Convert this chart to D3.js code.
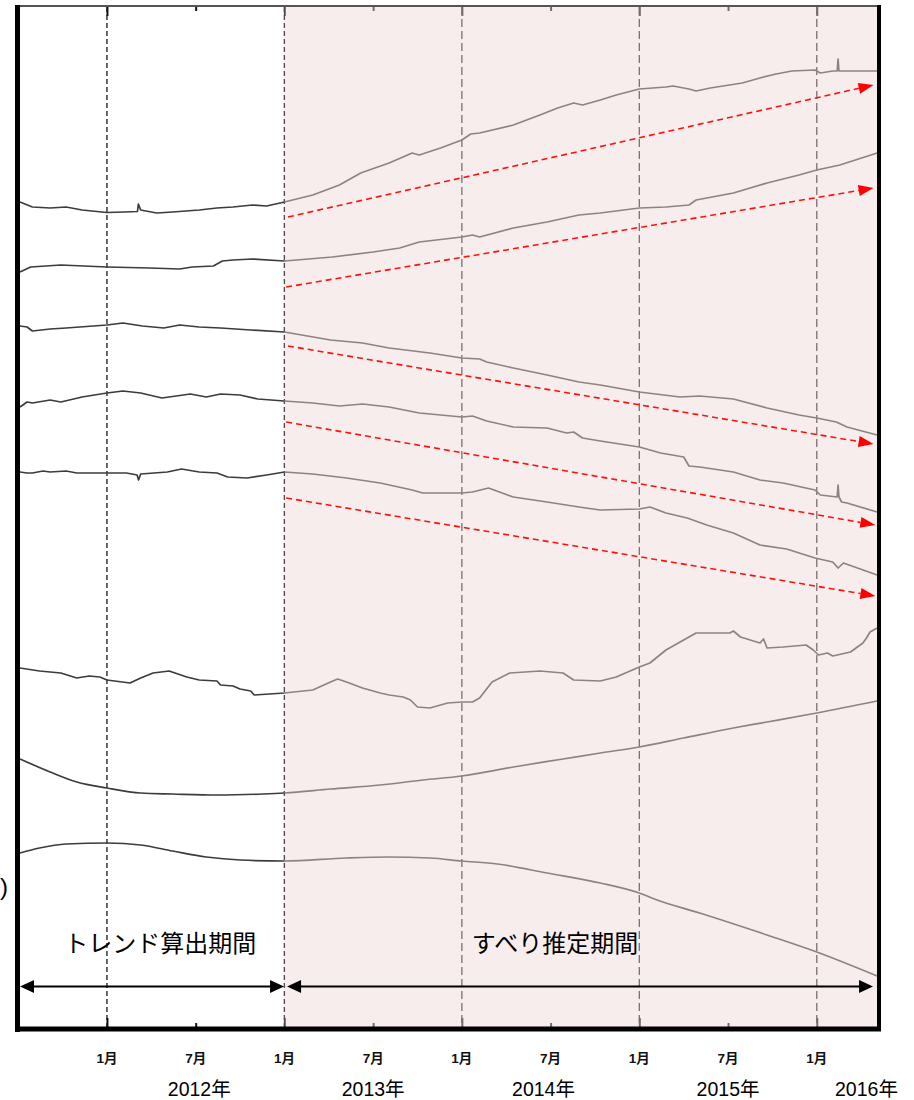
<!DOCTYPE html>
<html>
<head>
<meta charset="utf-8">
<script src="https://cdn.jsdelivr.net/npm/d3@7"></script>
<style>
  body { margin: 0; background: #fff; }
</style>
</head>
<body>
<svg id="chart" width="914" height="1100"></svg>
<script>
// Displacement time series (decimal year, relative displacement), stacked top to bottom
const series1 = [[2011.51,82.5],[2011.58,82.0],[2011.68,81.9],[2011.77,82.0],[2011.86,81.7],[2012.00,81.45],[2012.10,81.5],[2012.172,81.55],[2012.177,82.3],[2012.19,81.7],[2012.28,81.4],[2012.37,81.5],[2012.52,81.7],[2012.62,81.9],[2012.71,82.0],[2012.82,82.2],[2012.90,82.1],[2013.00,82.5],[2013.16,83.2],[2013.31,84.2],[2013.43,85.4],[2013.59,86.4],[2013.72,87.4],[2013.76,87.2],[2013.88,87.9],[2014.00,88.7],[2014.05,89.3],[2014.10,89.4],[2014.29,90.2],[2014.44,91.2],[2014.54,91.9],[2014.63,92.4],[2014.68,92.2],[2014.78,92.7],[2014.87,93.2],[2015.00,93.8],[2015.15,94.0],[2015.19,94.1],[2015.28,93.8],[2015.32,93.6],[2015.40,93.9],[2015.58,94.4],[2015.68,94.9],[2015.77,95.3],[2015.86,95.6],[2015.99,95.7],[2016.02,95.4],[2016.09,95.6],[2016.115,95.6],[2016.12,96.8],[2016.125,95.6],[2016.20,95.6],[2016.34,95.6]];
const series2 = [[2011.51,75.5],[2011.57,76.0],[2011.74,76.2],[2012.00,76.0],[2012.24,75.9],[2012.41,75.8],[2012.48,76.0],[2012.60,76.1],[2012.65,76.6],[2012.71,76.7],[2012.82,76.8],[2013.00,76.6],[2013.27,77.0],[2013.50,77.5],[2013.65,77.9],[2013.76,78.5],[2014.00,79.0],[2014.06,79.2],[2014.10,79.0],[2014.29,79.9],[2014.48,80.5],[2014.66,81.2],[2014.78,81.4],[2015.00,81.9],[2015.15,82.0],[2015.28,82.2],[2015.32,82.7],[2015.53,83.4],[2015.72,84.4],[2015.90,85.2],[2016.00,85.7],[2016.13,86.2],[2016.34,87.4]];
const series3 = [[2011.51,70.1],[2011.55,70.0],[2011.58,69.6],[2011.68,69.8],[2011.77,69.9],[2012.00,70.2],[2012.09,70.4],[2012.20,70.1],[2012.32,69.9],[2012.41,70.2],[2012.52,70.0],[2012.64,69.9],[2012.81,69.7],[2013.00,69.5],[2013.26,68.7],[2013.44,68.4],[2013.59,67.9],[2013.82,67.4],[2014.00,66.9],[2014.10,66.8],[2014.14,66.5],[2014.29,65.9],[2014.48,65.2],[2014.66,64.5],[2014.78,64.2],[2015.00,63.5],[2015.23,63.0],[2015.34,63.1],[2015.53,62.8],[2015.72,61.9],[2015.90,61.2],[2016.00,60.9],[2016.11,60.5],[2016.17,60.0],[2016.34,59.2]];
const series4 = [[2011.51,62.0],[2011.55,62.5],[2011.58,62.4],[2011.68,62.7],[2011.74,62.5],[2011.86,63.0],[2012.00,63.4],[2012.09,63.6],[2012.19,63.4],[2012.31,62.9],[2012.39,63.1],[2012.47,63.3],[2012.56,63.0],[2012.64,63.3],[2012.75,63.2],[2012.85,62.8],[2013.00,62.6],[2013.16,62.4],[2013.31,62.1],[2013.44,62.3],[2013.59,62.0],[2013.76,61.4],[2014.00,61.0],[2014.06,61.1],[2014.14,60.6],[2014.29,60.0],[2014.48,59.9],[2014.59,59.4],[2014.63,59.5],[2014.68,58.9],[2014.78,58.6],[2015.00,58.0],[2015.12,57.4],[2015.25,57.0],[2015.28,56.1],[2015.34,56.0],[2015.53,55.5],[2015.68,54.7],[2015.81,54.4],[2015.99,53.7],[2016.02,53.2],[2016.115,53.0],[2016.12,54.2],[2016.125,53.0],[2016.14,52.5],[2016.17,52.4],[2016.34,51.5]];
const series5 = [[2011.51,55.5],[2011.55,55.4],[2011.58,55.4],[2011.64,55.6],[2011.68,55.5],[2011.77,55.6],[2011.83,55.4],[2012.00,55.4],[2012.11,55.4],[2012.17,55.2],[2012.178,54.7],[2012.19,55.3],[2012.34,55.5],[2012.42,55.8],[2012.52,55.5],[2012.62,55.4],[2012.68,55.0],[2012.79,54.9],[2012.90,55.2],[2013.00,55.5],[2013.16,55.3],[2013.35,54.9],[2013.54,54.4],[2013.72,53.7],[2013.78,53.4],[2014.00,53.4],[2014.06,53.5],[2014.15,53.9],[2014.29,53.0],[2014.48,52.5],[2014.66,52.0],[2014.78,51.7],[2015.00,51.8],[2015.06,52.0],[2015.15,51.4],[2015.27,50.9],[2015.38,50.2],[2015.53,49.4],[2015.68,48.2],[2015.83,47.8],[2015.99,46.9],[2016.09,46.5],[2016.12,45.9],[2016.15,46.4],[2016.34,45.2]];
const series6 = [[2011.51,35.9],[2011.62,35.6],[2011.74,35.4],[2011.83,34.9],[2011.90,35.1],[2011.96,35.0],[2012.00,34.7],[2012.13,34.4],[2012.19,34.9],[2012.26,35.4],[2012.35,35.6],[2012.45,35.0],[2012.52,34.7],[2012.62,34.6],[2012.64,34.2],[2012.71,34.1],[2012.75,33.8],[2012.81,33.6],[2012.83,33.2],[2013.00,33.4],[2013.16,33.7],[2013.26,34.5],[2013.30,34.8],[2013.35,34.5],[2013.44,33.9],[2013.54,33.4],[2013.59,33.2],[2013.67,33.0],[2013.71,32.7],[2013.75,32.0],[2013.82,31.9],[2013.92,32.4],[2014.00,32.5],[2014.06,32.5],[2014.10,32.9],[2014.17,34.5],[2014.27,35.4],[2014.44,35.6],[2014.57,35.4],[2014.63,34.7],[2014.78,34.6],[2014.87,35.0],[2015.00,36.0],[2015.06,36.4],[2015.15,37.7],[2015.25,38.7],[2015.32,39.4],[2015.44,39.4],[2015.51,39.4],[2015.53,39.6],[2015.57,39.0],[2015.68,38.4],[2015.70,38.8],[2015.72,37.9],[2015.81,38.0],[2015.94,38.2],[2015.98,37.7],[2016.01,37.2],[2016.06,37.4],[2016.09,37.1],[2016.19,37.5],[2016.26,38.4],[2016.28,38.9],[2016.30,39.5],[2016.34,39.9]];
const series7 = [[2011.51,26.8],[2011.68,25.5],[2011.83,24.5],[2012.00,23.9],[2012.19,23.4],[2012.37,23.3],[2012.62,23.2],[2012.88,23.3],[2013.00,23.4],[2013.26,23.8],[2013.54,24.2],[2013.78,24.7],[2014.00,25.1],[2014.29,26.0],[2014.57,26.8],[2014.78,27.4],[2015.00,28.0],[2015.25,28.9],[2015.53,29.9],[2015.72,30.5],[2016.00,31.4],[2016.34,32.6]];
const series8 = [[2011.51,17.4],[2011.62,17.9],[2011.77,18.3],[2012.00,18.4],[2012.19,18.2],[2012.37,17.6],[2012.56,17.0],[2012.75,16.7],[2013.00,16.6],[2013.35,16.9],[2013.59,17.0],[2013.82,16.9],[2014.00,16.6],[2014.20,16.3],[2014.48,15.4],[2014.78,14.4],[2015.00,13.4],[2015.10,12.7],[2015.34,11.4],[2015.72,9.2],[2016.00,7.5],[2016.34,5.1]];

const noisySeries = [series1, series2, series3, series4, series5, series6];
const smoothSeries = [series7, series8];

// Fitted trend arrows: [start year, start value, end year, end value]
const trendArrows = [
  [2013.02, 81.0, 2016.32, 94.2],
  [2013.01, 74.0, 2016.32, 83.9],
  [2013.02, 68.1, 2016.32, 58.3],
  [2013.01, 60.5, 2016.33, 50.2],
  [2013.01, 52.9, 2016.33, 43.1]
];

// Axis ticks and labels
const janTicks = [2012, 2013, 2014, 2015, 2016];
const julTicks = [2012.5, 2013.5, 2014.5, 2015.5];
const yearLabels = ["2012年", "2013年", "2014年", "2015年", "2016年"];
const yearLabelAt = [2012.52, 2013.5, 2014.46, 2015.5, 2016.28];

// Analysis periods
const periodNames = ["トレンド算出期間", "すべり推定期間"];
const periodFrom = [2011.51, 2013.015];
const periodTo = [2012.998, 2016.317];
const periodLabelAt = [2012.30, 2014.525];
const estimationStart = 2013.0;

const latin = "'Liberation Sans', Arial, 'Noto Sans CJK JP', sans-serif";
const cjk = "'Noto Sans CJK JP', sans-serif";

const svg = d3.select("#chart");
const x = d3.scaleLinear().domain([2011.51, 2016.345]).range([20, 878]);
const y = d3.scaleLinear().domain([0, 102]).range([1027, 7]);
const [x0, x1] = x.range();
const yTop = y.range()[1], yBot = y.range()[0];

svg.append("rect").attr("width", 914).attr("height", 1100).attr("fill", "#fff");

// Vertical dashed year lines
svg.append("g").selectAll("line").data(janTicks).join("line")
  .attr("x1", d => x(d)).attr("x2", d => x(d))
  .attr("y1", yTop).attr("y2", yBot)
  .attr("stroke", "#1a1a1a").attr("stroke-width", 1.3)
  .attr("stroke-dasharray", d => d <= estimationStart ? "5,3" : "8,4");

// Inner ticks on top and bottom edges
function tickAxis(gen, yPos, vals, size) {
  const g = svg.append("g").attr("transform", `translate(0,${yPos})`)
    .call(gen(x).tickValues(vals).tickSizeInner(size).tickSizeOuter(0).tickFormat(""));
  g.select(".domain").remove();
  g.selectAll(".tick line").attr("stroke", "#111").attr("stroke-width", 2);
}
tickAxis(d3.axisBottom, yBot, janTicks, -9);
tickAxis(d3.axisBottom, yBot, julTicks, -4);
tickAxis(d3.axisTop, yTop, janTicks, -9);
tickAxis(d3.axisTop, yTop, julTicks, -4);

// Series lines
const lineLinear = d3.line().x(d => x(d[0])).y(d => y(d[1]));
const lineSmooth = d3.line().x(d => x(d[0])).y(d => y(d[1])).curve(d3.curveMonotoneX);
const gLines = svg.append("g").attr("fill", "none").attr("stroke-linejoin", "round");
gLines.selectAll("path.noisy").data(noisySeries).join("path").attr("class", "noisy")
  .attr("d", lineLinear).attr("stroke", "#3c3c3c").attr("stroke-width", 1.7);
gLines.selectAll("path.smooth").data(smoothSeries).join("path").attr("class", "smooth")
  .attr("d", lineSmooth).attr("stroke", "#3c3c3c").attr("stroke-width", 1.7);

// Translucent shading over the estimation period
svg.append("rect")
  .attr("x", x(estimationStart)).attr("y", yTop)
  .attr("width", x1 - x(estimationStart)).attr("height", yBot - yTop)
  .attr("fill", "rgb(238,216,216)").attr("fill-opacity", 0.46);

// Red dashed trend arrows
const gTrend = svg.append("g");
trendArrows.forEach(a => {
  const sx = x(a[0]), sy = y(a[1]), ex = x(a[2]), ey = y(a[3]);
  const ang = Math.atan2(ey - sy, ex - sx);
  const hl = 15, hw = 5.5;
  const bx = ex - hl * Math.cos(ang), by = ey - hl * Math.sin(ang);
  gTrend.append("line")
    .attr("x1", sx).attr("y1", sy).attr("x2", bx).attr("y2", by)
    .attr("stroke", "#ff1010").attr("stroke-width", 1.6).attr("stroke-dasharray", "6,4");
  const px = -Math.sin(ang), py = Math.cos(ang);
  gTrend.append("path")
    .attr("d", `M${ex},${ey}L${bx + px * hw},${by + py * hw}L${bx - px * hw},${by - py * hw}Z`)
    .attr("fill", "#ff0000");
});

// Frame
svg.append("line").attr("x1", x0 - 4).attr("x2", x1 + 2).attr("y1", yTop - 1).attr("y2", yTop - 1)
  .attr("stroke", "#555").attr("stroke-width", 2);
svg.append("line").attr("x1", x0 - 2.5).attr("x2", x0 - 2.5).attr("y1", yTop - 2).attr("y2", yBot + 5)
  .attr("stroke", "#000").attr("stroke-width", 5);
svg.append("line").attr("x1", x0 - 5).attr("x2", x1 + 3).attr("y1", yBot + 2).attr("y2", yBot + 2)
  .attr("stroke", "#000").attr("stroke-width", 5);
svg.append("line").attr("x1", x1 + 1).attr("x2", x1 + 1).attr("y1", yTop - 2).attr("y2", yBot + 4)
  .attr("stroke", "#000").attr("stroke-width", 4);

// Period double arrows and labels
const arrowVal = 4.05, labelVal = 7.5;
const gPer = svg.append("g");
periodNames.forEach((name, i) => {
  const ax = x(periodFrom[i]), bx = x(periodTo[i]), ay = y(arrowVal);
  const hl = 14, hw = 6.5;
  gPer.append("line").attr("x1", ax + hl - 1).attr("x2", bx - hl + 1).attr("y1", ay).attr("y2", ay)
    .attr("stroke", "#000").attr("stroke-width", 2);
  gPer.append("path").attr("d", `M${ax},${ay}L${ax + hl},${ay - hw}L${ax + hl},${ay + hw}Z`).attr("fill", "#000");
  gPer.append("path").attr("d", `M${bx},${ay}L${bx - hl},${ay - hw}L${bx - hl},${ay + hw}Z`).attr("fill", "#000");
  gPer.append("text").attr("x", x(periodLabelAt[i])).attr("y", y(labelVal))
    .attr("text-anchor", "middle").attr("font-family", cjk).attr("font-size", 24)
    .attr("fill", "#000").text(name);
});

// Month labels
const monthG = svg.append("g").attr("font-family", latin).attr("font-size", 13.5)
  .attr("font-weight", "bold").attr("fill", "#111").attr("text-anchor", "middle");
monthG.selectAll("text.jan").data(janTicks).join("text").attr("class", "jan")
  .attr("x", d => x(d)).attr("y", 1063).text("1月");
monthG.selectAll("text.jul").data(julTicks).join("text").attr("class", "jul")
  .attr("x", d => x(d)).attr("y", 1063).text("7月");

// Year labels
svg.append("g").attr("font-family", latin).attr("font-size", 19.5).attr("fill", "#000")
  .attr("text-anchor", "middle")
  .selectAll("text").data(yearLabels).join("text")
  .attr("x", (d, i) => x(yearLabelAt[i])).attr("y", 1096).text(d => d);

// Bracket of the axis title at the left edge
svg.append("text").attr("x", 0).attr("y", 895).attr("font-family", latin)
  .attr("font-size", 24).attr("fill", "#000").text(")");
</script>
</body>
</html>
